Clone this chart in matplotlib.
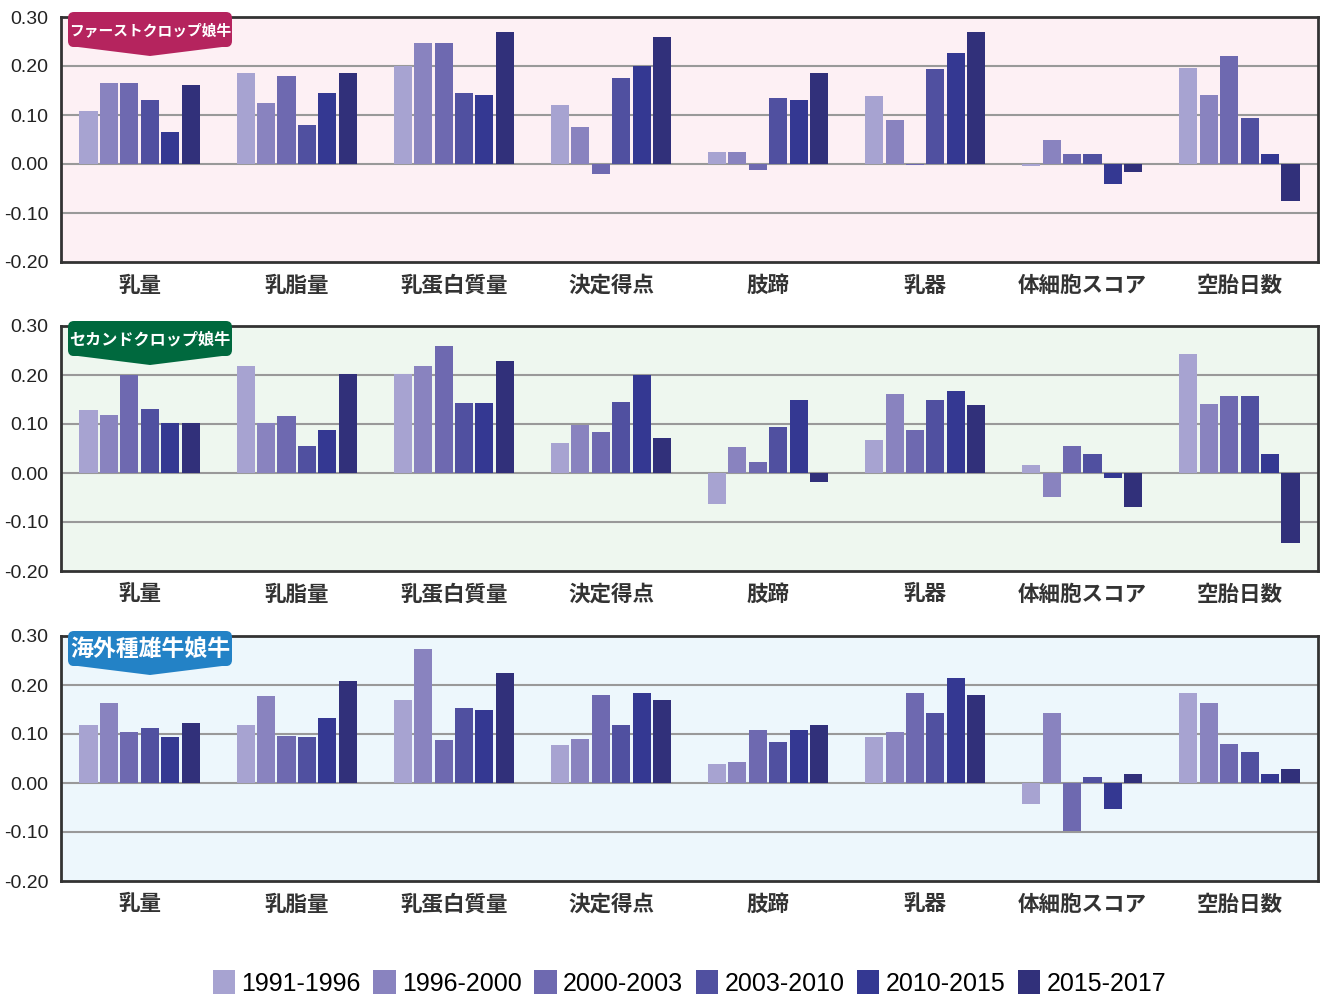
import matplotlib
matplotlib.use("Agg")
import numpy as np
import matplotlib.pyplot as plt
from matplotlib.patches import FancyBboxPatch, Polygon
from matplotlib.transforms import IdentityTransform

plt.rcParams['font.family'] = ['Noto Sans CJK JP', 'DejaVu Sans']

# --- data ---
categories = ['乳量', '乳脂量', '乳蛋白質量', '決定得点', '肢蹄', '乳器', '体細胞スコア', '空胎日数']
periods = ['1991-1996', '1996-2000', '2000-2003', '2003-2010', '2010-2015', '2015-2017']
colors = ['#a7a3d1', '#8983bf', '#6e69b0', '#5050a0', '#343892', '#31307a']

# rows = categories, cols = periods
first_crop = [
    [0.108, 0.166, 0.166, 0.131, 0.065, 0.162],
    [0.186, 0.125, 0.180, 0.080, 0.145, 0.186],
    [0.200, 0.246, 0.246, 0.145, 0.141, 0.270],
    [0.121, 0.076, -0.020, 0.176, 0.200, 0.260],
    [0.025, 0.025, -0.012, 0.135, 0.131, 0.186],
    [0.139, 0.090, -0.003, 0.194, 0.227, 0.270],
    [-0.005, 0.049, 0.020, 0.020, -0.041, -0.016],
    [0.196, 0.141, 0.221, 0.094, 0.020, -0.076],
]
second_crop = [
    [0.128, 0.119, 0.200, 0.130, 0.103, 0.103],
    [0.218, 0.103, 0.117, 0.056, 0.087, 0.203],
    [0.203, 0.218, 0.259, 0.142, 0.142, 0.228],
    [0.062, 0.097, 0.083, 0.144, 0.199, 0.072],
    [-0.063, 0.054, 0.023, 0.093, 0.148, -0.018],
    [0.068, 0.162, 0.087, 0.148, 0.168, 0.138],
    [0.017, -0.048, 0.056, 0.038, -0.010, -0.069],
    [0.242, 0.140, 0.158, 0.158, 0.038, -0.143],
]
foreign_sire = [
    [0.119, 0.164, 0.104, 0.113, 0.094, 0.123],
    [0.119, 0.178, 0.096, 0.094, 0.133, 0.209],
    [0.170, 0.274, 0.088, 0.153, 0.149, 0.225],
    [0.078, 0.090, 0.180, 0.119, 0.184, 0.170],
    [0.039, 0.043, 0.108, 0.084, 0.108, 0.119],
    [0.094, 0.104, 0.184, 0.143, 0.215, 0.180],
    [-0.043, 0.143, -0.098, 0.012, -0.053, 0.018],
    [0.184, 0.164, 0.080, 0.063, 0.018, 0.029],
]

panel_titles = ['ファーストクロップ娘牛', 'セカンドクロップ娘牛', '海外種雄牛娘牛']
panel_data = [first_crop, second_crop, foreign_sire]
panel_bg = ['#fdf0f4', '#eef7ef', '#edf7fc']
badge_colors = ['#b5245e', '#00693e', '#2382c6']
badge_fontsize = [10.6, 11.6, 16.5]

latin = ['Liberation Sans', 'DejaVu Sans']

W, H = 1326, 994
fig = plt.figure(figsize=(W / 100, H / 100), dpi=100)

panel_tops = [17, 326, 636]   # pixel rows of axes tops
panel_h = 245
x = np.arange(len(categories))
slot = 0.13
bw = 0.115

for p in range(3):
    top = panel_tops[p]
    ax = fig.add_axes([61 / W, 1 - (top + panel_h) / H, 1257 / W, panel_h / H])
    ax.set_facecolor(panel_bg[p])
    vals = np.array(panel_data[p])
    for j in range(len(periods)):
        ax.bar(x + (j - 2.5) * slot, vals[:, j], width=bw, color=colors[j],
               label=periods[j], zorder=3)
    ax.set_xlim(-0.5, len(categories) - 0.5)
    ax.set_ylim(-0.2, 0.3)
    ax.set_yticks([-0.2, -0.1, 0.0, 0.1, 0.2, 0.3])
    ax.set_yticklabels(['-0.20', '-0.10', '0.00', '0.10', '0.20', '0.30'],
                       family=latin, fontsize=14, color='#222222')
    ax.set_xticks(x)
    ax.set_xticklabels(categories, fontsize=15.5, fontweight='bold', color='#333333')
    ax.tick_params(axis='both', length=0)
    ax.tick_params(axis='y', pad=9)
    ax.tick_params(axis='x', pad=9)
    for yv in [-0.1, 0.0, 0.1, 0.2]:
        ax.axhline(yv, color='#999999', lw=1.5, zorder=1)
    for s in ax.spines.values():
        s.set_color('#333333')
        s.set_linewidth(2)

    # title badge
    by_top = top - 5
    rect = FancyBboxPatch((68, H - (by_top + 35)), 164, 35,
                          boxstyle='round,pad=0,rounding_size=6',
                          transform=IdentityTransform(), color=badge_colors[p],
                          lw=0, zorder=10)
    fig.patches.append(rect)
    tri = Polygon([(70, H - (by_top + 34)), (230, H - (by_top + 34)),
                   (150, H - (by_top + 44))], closed=True,
                  transform=IdentityTransform(), color=badge_colors[p], lw=0, zorder=10)
    fig.patches.append(tri)
    fig.text(150 / W, 1 - (by_top + 18) / H, panel_titles[p], color='white',
             fontsize=badge_fontsize[p], fontweight='bold', ha='center', va='center',
             zorder=11)

handles, labels = fig.axes[0].get_legend_handles_labels()
fig.legend(handles, labels, loc='center', bbox_to_anchor=(0.52, 1 - 983 / H), ncol=6,
           frameon=False, handlelength=0.9, handleheight=1.2,
           handletextpad=0.25, columnspacing=0.5,
           prop={'family': latin, 'size': 18})

fig.savefig('out.png', dpi=100)
